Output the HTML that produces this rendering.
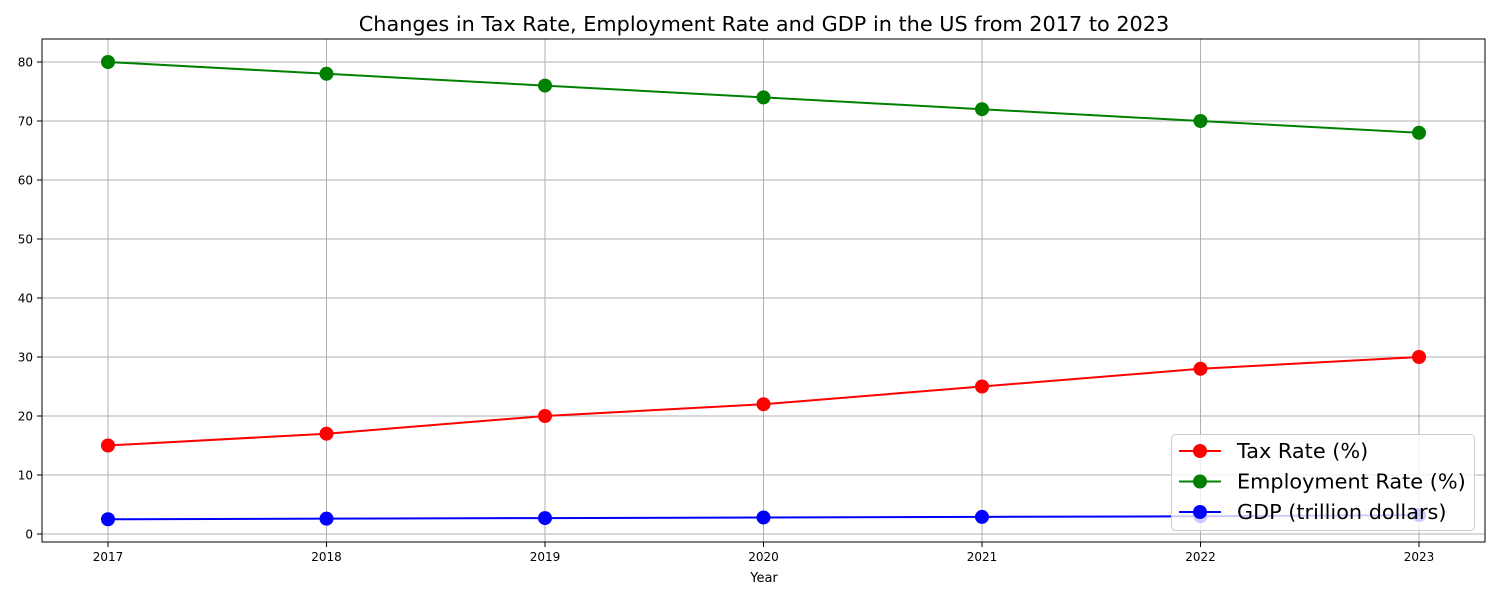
<!DOCTYPE html>
<html><head><meta charset="utf-8"><style>
body{margin:0;background:#fff;}
svg{display:block;font-family:"DejaVu Sans","Liberation Sans",sans-serif;}
</style></head><body>
<svg id="chart" width="1500" height="600"></svg>
<script>
const years=[2017,2018,2019,2020,2021,2022,2023];
const taxRate=[15,17,20,22,25,28,30];
const employmentRate=[80,78,76,74,72,70,68];
const gdp=[2.5,2.6,2.7,2.8,2.9,3.0,3.2];
const yTicks=[0,10,20,30,40,50,60,70,80];

const NS="http://www.w3.org/2000/svg";
const svg=document.getElementById('chart');
const L=42,R=1485,T=39,B=542;
const xs=y=>108+(y-2017)*(1419-108)/6;
const ys=v=>534-v*(534-62)/80;
function el(tag,attrs,parent){const e=document.createElementNS(NS,tag);for(const k in attrs)e.setAttribute(k,attrs[k]);(parent||svg).appendChild(e);return e;}

const title=el('text',{x:764,y:31,'text-anchor':'middle','font-size':20.8,fill:'#000'});
title.textContent='Changes in Tax Rate, Employment Rate and GDP in the US from 2017 to 2023';



years.forEach(y=>{
 const g=el('line',{x1:xs(y),x2:xs(y),y1:T,y2:B,stroke:'#b0b0b0','stroke-width':1});
 
 
 el('line',{x1:xs(y),x2:xs(y),y1:B,y2:B+5,stroke:'#000'});
 const t=el('text',{x:xs(y),y:B+19,'text-anchor':'middle','font-size':12});
 t.textContent=y;
 
 
});
yTicks.forEach(v=>{
 const g=el('line',{x1:L,x2:R,y1:ys(v),y2:ys(v),stroke:'#b0b0b0','stroke-width':1});
 
 
 el('line',{x1:L-5,x2:L,y1:ys(v),y2:ys(v),stroke:'#000'});
 const t=el('text',{x:L-9,y:ys(v)+4.5,'text-anchor':'end','font-size':12});
 t.textContent=v;
 
 
});
const xl=el('text',{x:764,y:582,'text-anchor':'middle','font-size':13});
xl.textContent='Year';



const series=[[taxRate,'#ff0000','tax-rate'],[employmentRate,'#008000','employment-rate'],[gdp,'#0000ff','gdp']];
series.forEach(([vals,c,n])=>{
 const p=el('polyline',{points:vals.map((v,i)=>xs(years[i])+','+ys(v)).join(' '),fill:'none',stroke:c,'stroke-width':2});
 
 
 vals.forEach((v,i)=>{
  const m=el('circle',{cx:xs(years[i]),cy:ys(v),r:7,fill:c});
  
  
 });
});
el('rect',{x:L,y:T,width:R-L,height:B-T,fill:'none',stroke:'#000','stroke-width':1});

const lg=el('g',{});


el('rect',{x:1171.5,y:434.5,width:303,height:96,rx:4,fill:'#fff','fill-opacity':0.8,stroke:'#cccccc'},lg);
const labels=['Tax Rate (%)','Employment Rate (%)','GDP (trillion dollars)'];
series.forEach(([v,c,n],i)=>{
 const y=451+i*30.5;
 el('line',{x1:1179,x2:1221,y1:y,y2:y,stroke:c,'stroke-width':2},lg);
 el('circle',{cx:1200,cy:y,r:7,fill:c},lg);
 const t=el('text',{x:1237,y:y+7,'font-size':20.8},lg);
 t.textContent=labels[i];
 
 
});
</script>
</body></html>
